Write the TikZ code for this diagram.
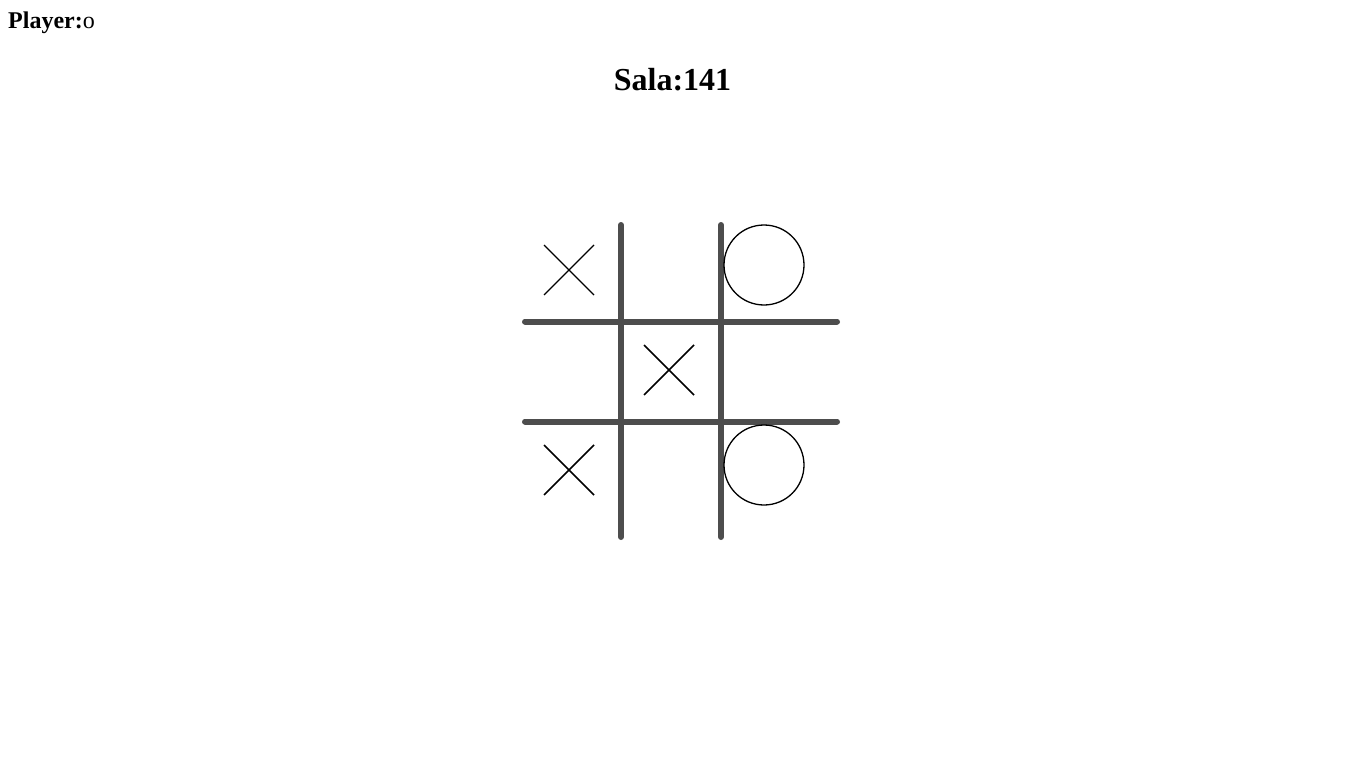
\documentclass[tikz,border=0pt]{standalone}
\usepackage{fontspec}
\setmainfont{Liberation Serif}
\usetikzlibrary{positioning}
\definecolor{boardgray}{RGB}{77,77,77}

\begin{document}
\begin{tikzpicture}[x=1pt,y=-1pt,board/.style={line width=6pt,boardgray,line cap=round},cross/.style={line width=1.7pt},ring/.style={line width=1.3pt}]
  \useasboundingbox (0,0) rectangle (1366,768);
  \node[anchor=base west,inner sep=0] (player) at (8,29) {\fontsize{24}{28}\selectfont\textbf{Player:}o};
  \node[anchor=base,inner sep=0] (sala) at (672.5,90) {\fontsize{32}{38}\selectfont\textbf{Sala:141}};
  \coordinate (v1a) at (621,225);
  \coordinate (v1b) at (621,537);
  \coordinate (v2a) at (721,225);
  \coordinate (v2b) at (721,537);
  \coordinate (h1a) at (525,321.5);
  \coordinate (h1b) at (837,321.5);
  \coordinate (h2a) at (525,421.5);
  \coordinate (h2b) at (837,421.5);
  \path[board]
    (v1a) edge (v1b)
    (v2a) edge (v2b)
    (h1a) edge (h1b)
    (h2a) edge (h2b);
  \coordinate (x1) at (569,270);
  \coordinate (x2) at (669,370);
  \coordinate (x3) at (569,470);
  \coordinate (o1) at (764,265);
  \coordinate (o2) at (764,465);
  \draw[cross,line width=1.2pt] ([shift={(-25,-25)}]x1) -- ([shift={(25,25)}]x1)
               ([shift={(25,-25)}]x1) -- ([shift={(-25,25)}]x1);
  \draw[cross] ([shift={(-25,-25)}]x2) -- ([shift={(25,25)}]x2)
               ([shift={(25,-25)}]x2) -- ([shift={(-25,25)}]x2);
  \draw[cross] ([shift={(-25,-25)}]x3) -- ([shift={(25,25)}]x3)
               ([shift={(25,-25)}]x3) -- ([shift={(-25,25)}]x3);
  \draw[ring] (o1) circle (40);
  \draw[ring] (o2) circle (40);
\end{tikzpicture}
\end{document}
